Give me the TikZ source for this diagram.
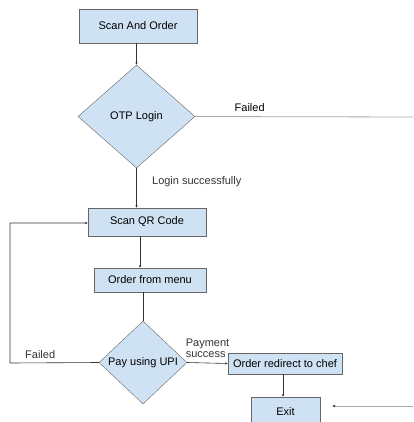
\documentclass[tikz,border=0pt]{standalone}
\usepackage{fontspec}
\setmainfont{Liberation Sans}
\usetikzlibrary{shapes.geometric,arrows.meta,positioning}
\definecolor{boxfill}{RGB}{207,226,243}
\definecolor{boxline}{RGB}{102,102,102}
\definecolor{faintline}{RGB}{170,170,170}

\begin{document}
\begin{tikzpicture}[
  x=1pt,y=-1pt,
  font=\fontsize{11}{12}\selectfont,
  stepbox/.style={draw=boxline,fill=boxfill,inner sep=0pt,align=center},
  decide/.style={diamond,draw=boxline,fill=boxfill,inner sep=0pt,align=center},
  arr/.style={-{Latex[length=2.5pt,width=2.5pt]},semithick,color=black!80},
  lin/.style={semithick,color=black!80},
  farr/.style={-{Latex[length=3pt,width=3pt,color=black!75]},thick,color=faintline},
]
\useasboundingbox (0,0) rectangle (413,422);

% Steps
\node[stepbox,minimum width=118pt,minimum height=34pt] (scan) at (138,26) {Scan And Order};
\node[decide,minimum width=117pt,minimum height=103pt] (otp) at (136.5,116.5) {OTP Login};
\node[stepbox,minimum width=118pt,minimum height=28pt] (qr) at (147,222) {Scan QR Code};
\node[stepbox,minimum width=112pt,minimum height=24pt] (menu) at (150,280) {Order from menu};
\node[decide,minimum width=88pt,minimum height=83pt] (pay) at (143,362.5) {Pay using UPI};
\node[stepbox,minimum width=114pt,minimum height=21pt] (chef) at (285,363.5) {Order redirect to chef};
\node[stepbox,minimum width=69pt,minimum height=30pt] (exit) at (285.5,412) {Exit};

% Free ends at the right edge
\coordinate (failend) at (413,117);
\coordinate (exitin) at (413,406);
\coordinate (loopa) at (10,363);
\coordinate (loopb) at (10,223);

% Connectors
\draw[farr,-] (otp.east) -- (failend) node[pos=0.25,above,color=black,yshift=1pt] {Failed};
\draw[arr] (otp.north |- scan.south) -- (otp.north);
\draw[arr] (otp.south) -- (otp.south |- qr.north) node[pos=0.35,right,xshift=12pt] {Login successfully};
\draw[arr] ([xshift=-7pt]qr.south) -- ([xshift=-7pt]qr.south |- menu.north);
\draw[lin] (pay.north |- menu.south) -- (pay.north);
\draw[arr] (pay.west) -- node[pos=0.66,above,yshift=1pt] {Failed} (loopa) -- (loopb) -- (qr.west |- loopb);
\draw[arr] (pay.east) -- (chef.west)
  node[midway,above,align=left,yshift=2pt,font=\fontsize{11}{11}\selectfont] {Payment\\success};
\draw[arr] ([xshift=-2pt]chef.south) -- ([xshift=-2pt]chef.south |- exit.north);
\draw[farr] (exitin) -- ([xshift=12pt]exit.east |- exitin);

\end{tikzpicture}
\end{document}
